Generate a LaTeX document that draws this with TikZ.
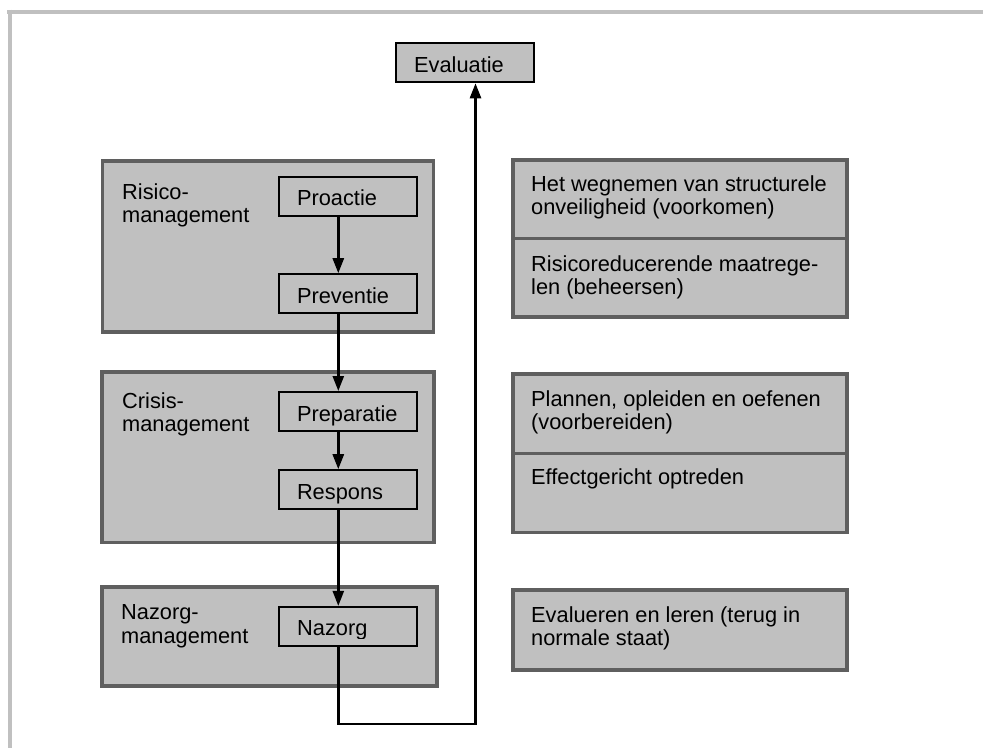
\documentclass[tikz,border=0pt]{standalone}
\usepackage{fontspec}
\setmainfont{Liberation Sans}
\usetikzlibrary{arrows.meta,calc}
\definecolor{boxfill}{HTML}{C0C0C0}
\definecolor{boxline}{HTML}{5F5F5F}
\definecolor{framec}{HTML}{C0C0C0}
\begin{document}
\begin{tikzpicture}[x=1pt,y=-1pt,
  txt/.style={font=\fontsize{21.8}{23.5}\selectfont, inner sep=0pt, anchor=base west, align=left},
  grpbox/.style={draw=boxline, fill=boxfill, line width=3.5pt, inner sep=0pt},
  inbox/.style={draw=black, fill=boxfill, line width=2pt, minimum width=137.7pt,
    minimum height=39pt, inner ysep=0pt, inner xsep=18pt, text width=101.7pt,
    align=left, text height=20pt, text depth=1pt, font=\fontsize{21.8}{23.5}\selectfont},
  arr/.style={line width=2.5pt, -{Triangle[length=15pt,width=11pt]}}
]
\useasboundingbox (0,0) rectangle (983,748);
% frame
\draw[framec, line width=4pt] (7,11.5) -- (983,11.5);
\draw[framec, line width=4pt] (9.5,9.5) -- (9.5,748);

% group boxes
\node[grpbox, minimum width=331pt, minimum height=171pt] (risico) at (268,246.5) {};
\node[grpbox, minimum width=332pt, minimum height=170.5pt] (crisis) at (268,457.3) {};
\node[grpbox, minimum width=335pt, minimum height=99pt] (nazorgm) at (269.5,636.5) {};
% multi-line labels: base anchor sits on the last line
\node[txt] (risicolbl) at (122,222.5) {Risico-\\management};
\node[txt] (crisislbl) at (122,431.5) {Crisis-\\management};
\node[txt] (nazorglbl) at (121,643) {Nazorg-\\management};

% inner boxes
\node[inbox] (evaluatie) at (465,62.8) {Evaluatie};
\node[inbox] (proactie) at (347.85,196) {Proactie};
\node[inbox] (preventie) at (347.85,293.7) {Preventie};
\node[inbox] (preparatie) at (347.85,411.5) {Preparatie};
\node[inbox] (respons) at (347.85,489.7) {Respons};
\node[inbox] (nazorg) at (347.85,626.4) {};
\begin{scope}
  \clip (285,600) rectangle (410,638);
  \node[txt] (nazorgtxt) at (297,635) {Nazorg};
\end{scope}

% right boxes
\node[grpbox, minimum width=334pt, minimum height=78.3pt] (rb1a) at (680,199.15) {};
\node[grpbox, minimum width=334pt, minimum height=78.7pt] (rb1b) at (680,277.65) {};
\node[grpbox, minimum width=334pt, minimum height=79.3pt] (rb2a) at (680,413.65) {};
\node[grpbox, minimum width=334pt, minimum height=79pt] (rb2b) at (680,492.8) {};
\node[grpbox, minimum width=334pt, minimum height=80pt] (rb3) at (680,630) {};
\node[txt] (t1a) at (531,214.5) {Het wegnemen van structurele\\onveiligheid (voorkomen)};
\node[txt] (t1b) at (531,294.5) {Risicoreducerende maatrege-\\len (beheersen)};
\node[txt] (t2a) at (531,429.5) {Plannen, opleiden en oefenen\\(voorbereiden)};
\node[txt] (t2b) at (531,484) {Effectgericht optreden};
\node[txt] (t3) at (531,645.5) {Evalueren en leren (terug in\\normale staat)};

% connectors
\coordinate (sp) at (338.3,0);
\coordinate (lp) at (475.5,724);
\draw[arr] (proactie.south -| sp) -- (preventie.north -| sp);
\draw[arr] (preventie.south -| sp) -- (preparatie.north -| sp);
\draw[arr] (preparatie.south -| sp) -- (respons.north -| sp);
\draw[arr] (respons.south -| sp) -- (nazorg.north -| sp);
\draw[arr] (nazorg.south -| sp) |- (lp) -- (lp |- evaluatie.south);
\end{tikzpicture}
\end{document}
